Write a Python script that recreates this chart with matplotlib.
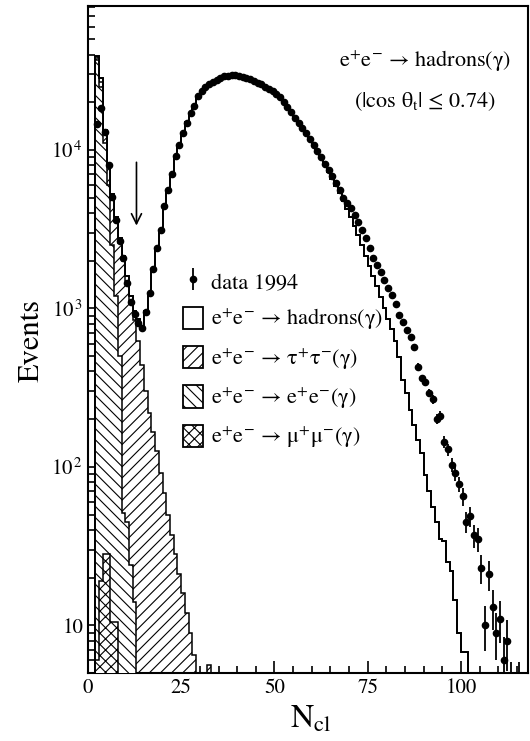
import numpy as np
import matplotlib
matplotlib.use("Agg")
import matplotlib.pyplot as plt
from matplotlib.patches import Patch

plt.rcParams["font.family"] = ["STIXGeneral", "DejaVu Serif"]
plt.rcParams["mathtext.fontset"] = "stix"
plt.rcParams["hatch.linewidth"] = 0.8

# data 1994, one value per N_cl bin, first bin is N_cl = 2
data_start = 2
data_counts = [
    14600, 18300, 12900, 7980, 5080, 3620, 2680, 2070, 1440, 1100,
    920, 813, 753, 955, 1247, 1770, 2400, 3130, 4460, 5600,
    7060, 9180, 10670, 12770, 14900, 17070, 19000, 21800, 23400, 24800,
    25900, 26900, 27800, 28500, 29100, 29500, 29800, 29600, 29300, 28900,
    28400, 27900, 27300, 26600, 25900, 25100, 24300, 23500, 22600, 21700,
    20100, 18700, 17300, 16000, 14900, 13800, 12770, 11700, 10700, 9800,
    9000, 8200, 7500, 6800, 6200, 5600, 4970, 4600, 4290, 3890,
    3530, 3130, 2770, 2400, 2070, 1880, 1700, 1510, 1350, 1220,
    1070, 910, 820, 730, 663, 574, 429, 362, 345, 292,
    267, 200, 210, 144, 129, 103, 91, 78, 65, 45,
    49, 37, 35, 23, 10, 21, 13, 9, 11, 6,
    8, 3, 0, 3,
]

# MC e+e- -> hadrons(gamma), first bin N_cl = 2
had_start = 2
had_counts = [
    800, 1400, 400, 200, 200, 200, 200, 150, 100, 100,
    120, 240, 310, 660, 1030, 1600, 2280, 3040, 4390, 5550,
    7020, 9150, 10650, 12750, 14890, 17060, 18990, 21800, 23400, 24800,
    25900, 26900, 27800, 28500, 29100, 29500, 29800, 29600, 29300, 28900,
    28400, 27900, 27300, 26600, 25900, 25100, 24300, 23500, 22600, 21700,
    20100, 18700, 17300, 16000, 14900, 13800, 12700, 11600, 10600, 9700,
    8850, 8000, 7250, 6550, 5950, 5350, 4750, 4250, 3750, 3300,
    2900, 2500, 2150, 1850, 1600, 1380, 1180, 1000, 860, 740,
    620, 490, 354, 292, 229, 184, 148, 122, 89, 70,
    56, 45, 35, 34, 25, 22, 14.5, 9, 6.8, 6.8,
]

# MC e+e- -> tau+tau-(gamma), first bin N_cl = 2
tau_start = 2
tau_counts = [
    1500, 2000, 2000, 2000, 2600, 2400, 2100, 1950, 1450, 1080,
    830, 620, 440, 300, 220, 165, 125, 92, 68, 50,
    37, 28, 21, 16, 12, 9, 6.5, 3, 2, 1,
    5.6,
]

# MC e+e- -> e+e-(gamma), first bin N_cl = 2
ee_start = 2
ee_counts = [37000, 25000, 11000, 6000, 2500, 1190, 500, 51, 45, 24, 14]

# MC e+e- -> mu+mu-(gamma), first bin N_cl = 2
mumu_start = 2
mumu_counts = [6, 19, 28, 28, 10.5, 10.5]

nbins = 118


def full(start, counts):
    arr = np.zeros(nbins)
    arr[start:start + len(counts)] = counts
    return arr


mumu = full(mumu_start, mumu_counts)
ee = full(ee_start, ee_counts)
tau = full(tau_start, tau_counts)
had = full(had_start, had_counts)
data = full(data_start, data_counts)
edges = np.arange(nbins + 1)

fig = plt.figure(figsize=(5.30, 7.41), dpi=100)
ax = fig.add_axes([88 / 530, 1 - 673 / 741, 440 / 530, 667 / 741])
ax.set_yscale("log")

# stacked MC: mumu at the bottom, then ee, tau, hadrons on top
stack_mumu = mumu
stack_ee = stack_mumu + ee
stack_tau = stack_ee + tau
stack_all = stack_tau + had

base = 1.0
ax.stairs(np.maximum(stack_all, base), edges, baseline=base, fill=True,
          facecolor="white", edgecolor="black", linewidth=1.3, zorder=1)
ax.stairs(np.maximum(stack_all, base), edges, baseline=base, fill=False,
          edgecolor="black", linewidth=1.3, zorder=5)
ax.stairs(np.maximum(stack_tau, base), edges, baseline=base, fill=True,
          facecolor="white", edgecolor="black", hatch="///", linewidth=1.1, zorder=2)
ax.stairs(np.maximum(stack_ee, base), edges, baseline=base, fill=True,
          facecolor="white", edgecolor="black", hatch="\\\\\\", linewidth=1.1, zorder=3)
ax.stairs(np.maximum(stack_mumu, base), edges, baseline=base, fill=True,
          facecolor="white", edgecolor="black", hatch="xxx", linewidth=1.1, zorder=4)

# data points with Poisson errors
centers = edges[:-1] + 0.5
sel = data > 0
counts = data[sel]
err_lo = np.sqrt(counts)
err_hi = np.where(counts < 5, 2.9, np.sqrt(counts))
eb = ax.errorbar(centers[sel], counts, yerr=[err_lo, err_hi], fmt="o",
                 color="black", ms=4.5, elinewidth=1.3, capsize=0, zorder=6)

# cut position
ax.annotate("", xy=(13, 3200), xytext=(13, 8700),
            arrowprops=dict(arrowstyle="->", color="black", lw=1.2,
                            mutation_scale=18))

ax.set_xlim(0, 118)
ax.set_ylim(5, 8.1e4)
ax.set_xticks([0, 25, 50, 75, 100])
ax.set_xticks(np.arange(0, 118, 5), minor=True)
ax.set_yticks([10, 100, 1000, 10000],
              labels=["10", "10$^{\\,2}$", "10$^{\\,3}$", "10$^{\\,4}$"])
ax.tick_params(which="both", direction="in", top=False, right=False,
               labelsize=15, width=1.2)
ax.tick_params(which="major", length=9)
ax.tick_params(which="minor", length=5)
ax.tick_params(axis="y", which="minor", labelleft=False)
for s in ax.spines.values():
    s.set_linewidth(1.5)

fig.text(32 / 530, 1 - 340 / 741, "Events", rotation=90, fontsize=22,
         ha="center", va="center")
fig.text(311 / 530, 1 - 720 / 741, "N$_{\\mathrm{cl}}$", fontsize=23,
         ha="center", va="center")

ax.text(0.765, 0.917, "e$^{+}$e$^{-}$ → hadrons(γ)", transform=ax.transAxes,
        fontsize=16, ha="center", va="center")
ax.text(0.765, 0.856, "(|cos θ$_{\\mathrm{t}}$| ≤ 0.74)", transform=ax.transAxes,
        fontsize=16, ha="center", va="center")

handles = [
    eb,
    Patch(facecolor="white", edgecolor="black", linewidth=1.3),
    Patch(facecolor="white", edgecolor="black", hatch="///", linewidth=1.3),
    Patch(facecolor="white", edgecolor="black", hatch="\\\\\\", linewidth=1.3),
    Patch(facecolor="white", edgecolor="black", hatch="xxx", linewidth=1.3),
]
labels = [
    "data 1994",
    "e$^{+}$e$^{-}$ → hadrons(γ)",
    "e$^{+}$e$^{-}$ → τ$^{+}$τ$^{-}$(γ)",
    "e$^{+}$e$^{-}$ → e$^{+}$e$^{-}$(γ)",
    "e$^{+}$e$^{-}$ → μ$^{+}$μ$^{-}$(γ)",
]
ax.legend(handles, labels, loc="upper left", bbox_to_anchor=(0.215, 0.605),
          frameon=False, fontsize=16, handlelength=0.9, handleheight=1.15,
          handletextpad=0.4, labelspacing=0.62, borderpad=0, borderaxespad=0)

fig.savefig("out.png", dpi=100)
